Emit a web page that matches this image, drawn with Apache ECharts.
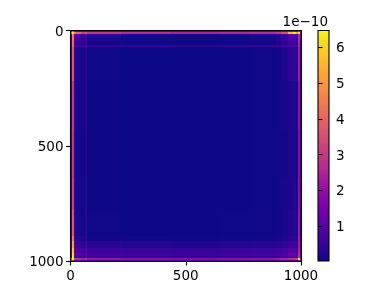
<!DOCTYPE html>
<html><head><meta charset="utf-8">
<style>html,body{margin:0;padding:0;background:#fff}#c{width:380px;height:300px}</style>
<script src="https://cdn.jsdelivr.net/npm/echarts@6/dist/echarts.min.js"></script>
</head><body><div id="c"></div>
<script>
const axisTicks = [0, 500, 1000];
const colorbarTicks = [1, 2, 3, 4, 5, 6];
const colorMin = 0.02, colorMax = 6.47;
const offsetLabel = '1e\u221210';
const plasma = ['#0d0887','#2c0594','#43039e','#5a01a5','#6f00a8','#8405a7','#9511a1','#a72197','#b6308b','#c33d80','#cf4c74','#db5c68','#e56b5d','#ed7c51','#f58c46','#fa9e3b','#fdb130','#fdc527','#f9da24','#f0f921'];
// band edges along each axis (rows and columns use the same bands)
const edges = [0,5,14,24,44,58,64,72,220,430,640,780,890,915,945,965,978,989,995,1000];
// values ×1e-10 read per band, top row first
const row00 = [1,3.5,1.5,1.2,1,1,1.4,1,.9,.9,1,1,1.2,1.4,1.8,1.8,1.4,2.5,1];
const row01 = [4,6.3,4.6,4,3.4,3.2,3.5,3,2.7,2.5,2.6,2.7,3,3.6,5.6,6.3,5.2,6.2,2];
const row02 = [.9,4.6,1.2,.9,.7,.6,1,.45,.2,.16,.2,.3,.45,.7,1.1,1.1,1,2.6,.8];
const row03 = [.7,4.4,.95,.7,.5,.4,.8,.2,.08,.06,.08,.14,.25,.5,.85,.9,.7,2.5,.7];
const row04 = [.55,4.2,.7,.45,.3,.25,.6,.1,.04,.03,.05,.08,.18,.35,.65,.7,.5,2.4,.6];
const row05 = [.5,4.2,.6,.35,.25,.2,.5,.08,.03,.03,.04,.07,.15,.3,.6,.65,.45,2.3,.5];
const row06 = [.8,4.2,.9,.7,.6,.55,.9,.5,.4,.36,.4,.45,.55,.65,.9,.95,.7,2.4,.7];
const row07 = [.4,3.7,.4,.22,.12,.09,.4,.04,.02,.02,.03,.05,.09,.22,.4,.48,.3,2.2,.4];
const row08 = [.3,3.1,.28,.14,.07,.05,.3,.03,.02,.02,.03,.04,.07,.13,.22,.26,.18,2,.3];
const row09 = [.28,3,.25,.12,.06,.05,.26,.03,.02,.02,.03,.04,.06,.1,.18,.22,.16,1.9,.28];
const row10 = [.3,3.2,.28,.14,.07,.05,.26,.03,.02,.02,.03,.04,.07,.12,.2,.24,.18,2,.3];
const row11 = [.35,3.7,.35,.2,.1,.08,.3,.05,.03,.03,.04,.05,.09,.16,.26,.3,.22,2.1,.35];
const row12 = [.5,4.4,.5,.3,.18,.15,.4,.1,.07,.06,.07,.09,.14,.22,.35,.4,.3,2.2,.5];
const row13 = [.75,5.2,.75,.55,.42,.38,.65,.32,.25,.23,.25,.27,.32,.4,.55,.6,.5,2.3,.7];
const row14 = [1,5.8,1,.85,.72,.68,1,.62,.54,.5,.54,.58,.65,.75,1,1,.8,2.5,.9];
const row15 = [1.2,6.2,1.2,1.05,.9,.82,1.2,.75,.66,.62,.66,.7,.78,.88,1.25,1.3,1,2.8,1];
const row16 = [.9,6.3,.85,.7,.55,.5,.85,.45,.38,.36,.38,.42,.5,.62,.85,.85,.65,3,.9];
const row17 = [3.4,6.4,3,2.7,2.4,2.3,2.8,2.1,2,1.9,2,2.1,2.2,2.4,2.7,2.9,3,6.4,2];
const row18 = [1,2.5,1,.9,.8,.8,1,.7,.7,.7,.7,.7,.8,.8,1,1,1,2,.8];
const matrix = [row00,row01,row02,row03,row04,row05,row06,row07,row08,row09,row10,row11,row12,row13,row14,row15,row16,row17,row18];

const cells = [];
matrix.forEach((row, r) => row.forEach((v, c) => {
  cells.push([edges[c], edges[c+1], edges[r], edges[r+1], v]);
}));

const font = {fontFamily:'DejaVu Sans', fontSize:13.5, color:'#000', formatter:(v) => String(v)};
const shifted = {...font, formatter:(v) => '{t|' + v + '}',
  rich:{t:{fontFamily:'DejaVu Sans', fontSize:13.5, color:'#000', padding:[3,0,0,0]}}};
const line = {show:true, onZero:false, lineStyle:{color:'#000', width:1.1}};
const tick = {show:true, length:4.5, lineStyle:{color:'#000', width:1.1}};
const fixedAxis = {type:'value', min:0, max:1000, splitLine:{show:false}, z:5};

const chart = echarts.init(document.getElementById('c'), null, {renderer:'canvas'});
chart.setOption({
  animation:false,
  backgroundColor:'#fff',
  title:{text:offsetLabel, right:52, top:15, padding:0,
    textStyle:{fontFamily:'DejaVu Sans', fontSize:13.5, fontWeight:'normal', color:'#000'}},
  grid:[
    {left:70.5, top:30.5, width:230.5, height:230.5},
    {left:318, top:30.5, width:11, height:230.5}
  ],
  xAxis:[
    {...fixedAxis, gridIndex:0, position:'bottom', interval:500, axisLine:line, axisTick:tick,
      axisLabel:{...font, margin:8, customValues:axisTicks, showMinLabel:true, showMaxLabel:true}},
    {...fixedAxis, gridIndex:0, position:'top', axisLine:line, axisTick:{show:false}, axisLabel:{show:false}},
    {type:'value', gridIndex:1, min:0, max:1, show:false}
  ],
  yAxis:[
    {...fixedAxis, gridIndex:0, position:'left', inverse:true, interval:500, axisLine:line, axisTick:tick,
      axisLabel:{...shifted, margin:7, customValues:axisTicks, showMinLabel:true, showMaxLabel:true, verticalAlign:'middle'}},
    {...fixedAxis, gridIndex:0, position:'right', inverse:true, axisLine:line, axisTick:{show:false}, axisLabel:{show:false}},
    {type:'value', gridIndex:1, position:'right', min:colorMin, max:colorMax, splitLine:{show:false}, z:5,
      axisLine:{show:false},
      axisTick:{...tick, customValues:colorbarTicks},
      axisLabel:{...shifted, margin:7, customValues:colorbarTicks, showMinLabel:true, showMaxLabel:true, verticalAlign:'middle'}}
  ],
  visualMap:{show:false, type:'continuous', seriesIndex:0, dimension:4, min:colorMin, max:colorMax,
    inRange:{color:plasma}},
  series:[
    {type:'custom', xAxisIndex:0, yAxisIndex:0, data:cells, clip:true,
      encode:{x:[0,1], y:[2,3]},
      renderItem(params, api){
        const a = api.coord([api.value(0), api.value(2)]);
        const b = api.coord([api.value(1), api.value(3)]);
        const x0 = Math.round(a[0]), y0 = Math.round(a[1]);
        const x1 = Math.round(b[0]), y1 = Math.round(b[1]);
        return {type:'rect', shape:{x:x0, y:y0, width:x1-x0, height:y1-y0},
          style:{fill:api.visual('color')}};
      }},
    {type:'custom', xAxisIndex:2, yAxisIndex:2, data:[[0,1,colorMin,colorMax]],
      encode:{x:[0,1], y:[2,3]},
      renderItem(params, api){
        const a = api.coord([api.value(0), api.value(3)]);
        const b = api.coord([api.value(1), api.value(2)]);
        const stops = plasma.map((color, i) => ({offset:1 - i/(plasma.length-1), color}));
        return {type:'rect', shape:{x:a[0], y:a[1], width:b[0]-a[0], height:b[1]-a[1]},
          style:{fill:new echarts.graphic.LinearGradient(0,0,0,1,stops), stroke:'#000', lineWidth:1.1}};
      }}
  ]
});
</script></body></html>
